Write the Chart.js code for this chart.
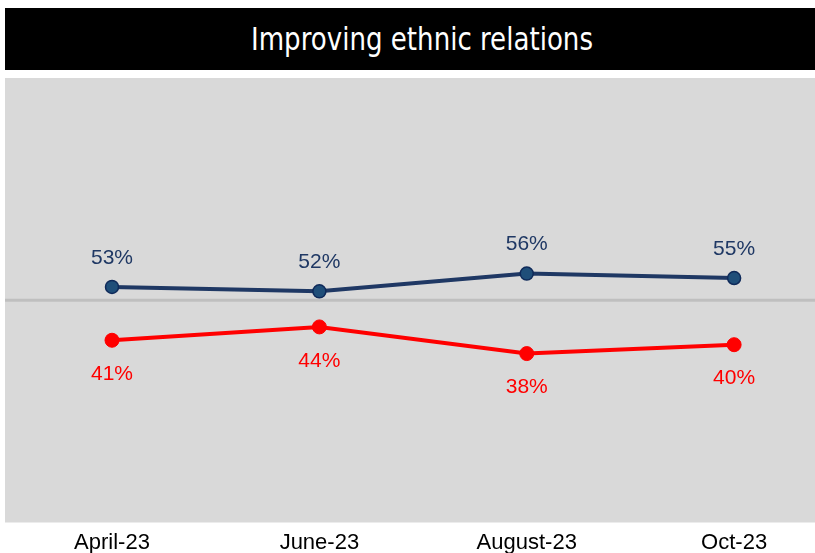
<!DOCTYPE html>
<html lang="en">
<head>
  <meta charset="UTF-8">
  <title>Improving ethnic relations</title>
  <script src="https://cdn.jsdelivr.net/npm/chart.js"></script>
  <style>
    body {
      margin: 0;
      background: #fff;
      width: 815px;
      height: 553px;
      overflow: hidden;
      position: relative;
    }
    #title {
      position: absolute;
      left: 5px;
      top: 8px;
      width: 810px;
      height: 62px;
      background: #000;
      color: #fff;
      font-family: "DejaVu Sans Condensed", "DejaVu Sans", sans-serif;
      font-size: 29px;
      line-height: 62px;
      text-align: center;
      padding-left: 24px;
      box-sizing: border-box;
    }
    #title span {
      display: inline-block;
      transform: scaleY(1.12);
    }
    #wrap {
      position: absolute;
      left: 5px;
      top: 78px;
      width: 810px;
      height: 475px;
    }
  </style>
</head>
<body>
  <div id="title"><span>Improving ethnic relations</span></div>
  <div id="wrap"><canvas id="ethnicChart"></canvas></div>

  <script>
    const months = ['April-23', 'June-23', 'August-23', 'Oct-23'];
    const improving = [53, 52, 56, 55];
    const notImproving = [41, 44, 38, 40];
    const referenceLine = 50;

    const toPoints = arr => arr.map((v, i) => ({ x: i, y: v }));

    // gray plot background + 50% reference line
    const backdrop = {
      id: 'backdrop',
      beforeDatasetsDraw(chart) {
        const { ctx, chartArea: a, scales: { y } } = chart;
        ctx.save();
        ctx.fillStyle = '#d9d9d9';
        ctx.fillRect(a.left, a.top, a.right - a.left, a.bottom - a.top);
        const yy = y.getPixelForValue(referenceLine);
        ctx.strokeStyle = '#bfbfbf';
        ctx.lineWidth = 3;
        ctx.beginPath();
        ctx.moveTo(a.left, yy);
        ctx.lineTo(a.right, yy);
        ctx.stroke();
        ctx.restore();
      }
    };

    // percentage labels above / below the points
    const valueLabels = {
      id: 'valueLabels',
      afterDatasetsDraw(chart) {
        const ctx = chart.ctx;
        ctx.save();
        ctx.font = '21px "Liberation Sans", Arial, sans-serif';
        ctx.textAlign = 'center';
        ctx.textBaseline = 'middle';
        chart.data.datasets.forEach((ds, di) => {
          const meta = chart.getDatasetMeta(di);
          ctx.fillStyle = ds.labelColor;
          meta.data.forEach((pt, i) => {
            ctx.fillText(ds.data[i].y + '%', pt.x, pt.y + ds.labelOffset);
          });
        });
        ctx.restore();
      }
    };

    new Chart(document.getElementById('ethnicChart'), {
      type: 'line',
      data: {
        datasets: [
          {
            label: 'Improving',
            data: toPoints(improving),
            borderColor: '#1f3864',
            backgroundColor: '#1f4e79',
            pointBorderColor: '#0f2a5a',
            pointBorderWidth: 1.5,
            pointRadius: 6.5,
            borderWidth: 4,
            labelColor: '#1f3864',
            labelOffset: -29
          },
          {
            label: 'Not improving',
            data: toPoints(notImproving),
            borderColor: '#ff0000',
            backgroundColor: '#ff0000',
            pointBorderColor: '#ff0000',
            pointBorderWidth: 1,
            pointRadius: 7,
            borderWidth: 4,
            labelColor: '#ff0000',
            labelOffset: 34
          }
        ]
      },
      options: {
        responsive: true,
        maintainAspectRatio: false,
        animation: false,
        layout: { padding: 0, autoPadding: false },
        plugins: {
          legend: { display: false },
          tooltip: { enabled: false }
        },
        scales: {
          x: {
            type: 'linear',
            min: -0.516,
            max: 3.39,
            afterBuildTicks: axis => {
              axis.ticks = months.map((m, i) => ({ value: i }));
            },
            afterFit: axis => { axis.height = 30.5; },
            grid: { display: false, drawTicks: false },
            border: { display: false },
            ticks: {
              padding: 7,
              color: '#000',
              maxRotation: 0,
              font: { family: '"Liberation Sans", Arial, sans-serif', size: 22 },
              callback: v => months[v]
            }
          },
          y: {
            display: false,
            min: 0,
            max: 100
          }
        }
      },
      plugins: [backdrop, valueLabels]
    });
  </script>
</body>
</html>
